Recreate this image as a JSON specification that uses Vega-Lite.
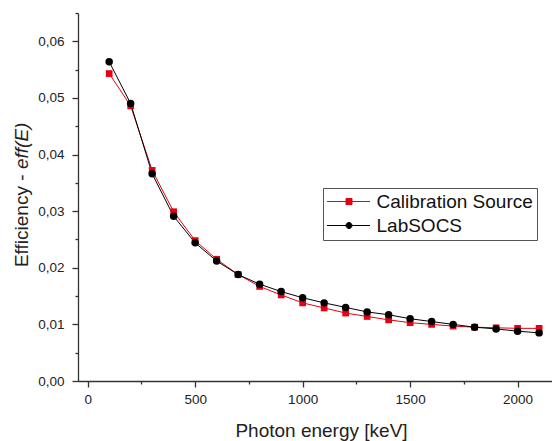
{
  "$schema": "https://vega.github.io/schema/vega-lite/v6.json",
  "width": 474,
  "height": 368,
  "autosize": {"type": "none"},
  "padding": {"left": 78, "top": 13, "right": 0, "bottom": 60},
  "background": "white",
  "config": {
    "font": "Liberation Sans",
    "view": {"stroke": null},
    "axis": {
      "grid": false,
      "domainColor": "#333333",
      "domainWidth": 1.3,
      "tickColor": "#333333",
      "tickWidth": 1.3,
      "labelFont": "Liberation Sans",
      "labelFontSize": 13.5,
      "labelColor": "#222222",
      "titleFont": "Liberation Sans",
      "titleFontSize": 19,
      "titleFontWeight": "normal",
      "titleColor": "#222222"
    }
  },
  "data": {
    "values": [
      {"energy": 100, "eff": 0.0543, "series": "Calibration Source"},
      {"energy": 200, "eff": 0.0486, "series": "Calibration Source"},
      {"energy": 300, "eff": 0.0372, "series": "Calibration Source"},
      {"energy": 400, "eff": 0.0299, "series": "Calibration Source"},
      {"energy": 500, "eff": 0.0248, "series": "Calibration Source"},
      {"energy": 600, "eff": 0.0215, "series": "Calibration Source"},
      {"energy": 700, "eff": 0.0188, "series": "Calibration Source"},
      {"energy": 800, "eff": 0.0167, "series": "Calibration Source"},
      {"energy": 900, "eff": 0.0152, "series": "Calibration Source"},
      {"energy": 1000, "eff": 0.0138, "series": "Calibration Source"},
      {"energy": 1100, "eff": 0.0129, "series": "Calibration Source"},
      {"energy": 1200, "eff": 0.0120, "series": "Calibration Source"},
      {"energy": 1300, "eff": 0.0114, "series": "Calibration Source"},
      {"energy": 1400, "eff": 0.0108, "series": "Calibration Source"},
      {"energy": 1500, "eff": 0.0103, "series": "Calibration Source"},
      {"energy": 1600, "eff": 0.0100, "series": "Calibration Source"},
      {"energy": 1700, "eff": 0.0097, "series": "Calibration Source"},
      {"energy": 1800, "eff": 0.0095, "series": "Calibration Source"},
      {"energy": 1900, "eff": 0.0094, "series": "Calibration Source"},
      {"energy": 2000, "eff": 0.0093, "series": "Calibration Source"},
      {"energy": 2100, "eff": 0.0093, "series": "Calibration Source"},
      {"energy": 100, "eff": 0.0564, "series": "LabSOCS"},
      {"energy": 200, "eff": 0.0490, "series": "LabSOCS"},
      {"energy": 300, "eff": 0.0366, "series": "LabSOCS"},
      {"energy": 400, "eff": 0.0291, "series": "LabSOCS"},
      {"energy": 500, "eff": 0.0244, "series": "LabSOCS"},
      {"energy": 600, "eff": 0.0212, "series": "LabSOCS"},
      {"energy": 700, "eff": 0.0188, "series": "LabSOCS"},
      {"energy": 800, "eff": 0.0171, "series": "LabSOCS"},
      {"energy": 900, "eff": 0.0158, "series": "LabSOCS"},
      {"energy": 1000, "eff": 0.0147, "series": "LabSOCS"},
      {"energy": 1100, "eff": 0.0138, "series": "LabSOCS"},
      {"energy": 1200, "eff": 0.0130, "series": "LabSOCS"},
      {"energy": 1300, "eff": 0.0122, "series": "LabSOCS"},
      {"energy": 1400, "eff": 0.0117, "series": "LabSOCS"},
      {"energy": 1500, "eff": 0.0110, "series": "LabSOCS"},
      {"energy": 1600, "eff": 0.0105, "series": "LabSOCS"},
      {"energy": 1700, "eff": 0.0100, "series": "LabSOCS"},
      {"energy": 1800, "eff": 0.0095, "series": "LabSOCS"},
      {"energy": 1900, "eff": 0.0092, "series": "LabSOCS"},
      {"energy": 2000, "eff": 0.0088, "series": "LabSOCS"},
      {"energy": 2100, "eff": 0.0085, "series": "LabSOCS"}
    ]
  },
  "encoding": {
    "x": {
      "field": "energy",
      "type": "quantitative",
      "scale": {"domain": [-45, 2160], "nice": false, "zero": false},
      "axis": {
        "values": [0, 250, 500, 750, 1000, 1250, 1500, 1750, 2000],
        "format": "d",
        "labelExpr": "datum.value % 500 === 0 ? datum.label : ''",
        "tickSize": {"condition": {"test": "datum.value % 500 === 0", "value": 6}, "value": 3},
        "labelPadding": 5,
        "labelOverlap": false,
        "title": "Photon energy [keV]",
        "titleX": 243,
        "titleY": 55.5,
        "titleAlign": "center",
        "titleBaseline": "alphabetic"
      }
    },
    "color": {
      "field": "series",
      "type": "nominal",
      "scale": {"domain": ["Calibration Source", "LabSOCS"], "range": ["#e60012", "#000000"]},
      "legend": {
        "orient": "none",
        "legendX": 245,
        "legendY": 175,
        "title": null,
        "padding": 4,
        "rowPadding": 4,
        "strokeColor": "#555555",
        "fillColor": "white",
        "labelFont": "Liberation Sans",
        "labelFontSize": 19,
        "labelColor": "#111111",
        "labelOffset": 18,
        "symbolSize": 36,
        "symbolOffset": 12.5,
        "symbolStrokeWidth": 1,
        "symbolType": {"expr": "datum.value === 'LabSOCS' ? 'M-7.33,0H7M-1,0A1,1,0,1,0,1,0A1,1,0,1,0,-1,0Z' : 'M-7.33,0H7M-1,-1H1V1H-1Z'"},
        "encode": {
          "symbols": {
            "update": {
              "fill": {"scale": "color", "field": "value"},
              "stroke": {"scale": "color", "field": "value"},
              "strokeWidth": {"value": 1},
              "opacity": {"value": 1}
            }
          }
        }
      }
    }
  },
  "layer": [
    {
      "mark": {"type": "line", "strokeWidth": 1},
      "encoding": {
        "y": {
          "field": "eff",
          "type": "quantitative",
          "scale": {"domain": [0, 0.065], "nice": false},
          "axis": {
            "orient": "left",
            "values": [0, 0.005, 0.01, 0.015, 0.02, 0.025, 0.03, 0.035, 0.04, 0.045, 0.05, 0.055, 0.06, 0.065],
            "labelExpr": "round(datum.value * 1000) % 10 === 0 ? replace(format(datum.value, '.2f'), '.', ',') : ''",
            "tickSize": {"condition": {"test": "round(datum.value * 1000) % 10 === 0", "value": 6}, "value": 3},
            "labelPadding": 8,
            "labelOverlap": false,
            "title": "Efficiency -",
            "titleX": -51,
            "titleY": 161,
            "titleAngle": -90,
            "titleAlign": "right",
            "titleBaseline": "alphabetic"
          }
        }
      }
    },
    {
      "transform": [{"filter": "datum.series === 'Calibration Source'"}],
      "mark": {"type": "point", "shape": "square", "filled": true, "opacity": 1, "size": 45},
      "encoding": {
        "y": {
          "field": "eff",
          "type": "quantitative",
          "axis": {
            "orient": "left",
            "domain": false,
            "ticks": false,
            "labels": false,
            "title": "eff(E)",
            "titleFontStyle": "italic",
            "titleX": -51,
            "titleY": 155.5,
            "titleAngle": -90,
            "titleAlign": "left",
            "titleBaseline": "alphabetic"
          }
        }
      }
    },
    {
      "transform": [{"filter": "datum.series === 'LabSOCS'"}],
      "mark": {"type": "point", "shape": "circle", "filled": true, "opacity": 1, "size": 56},
      "encoding": {
        "y": {
          "field": "eff",
          "type": "quantitative",
          "axis": null
        }
      }
    }
  ],
  "resolve": {"axis": {"y": "independent"}}
}
